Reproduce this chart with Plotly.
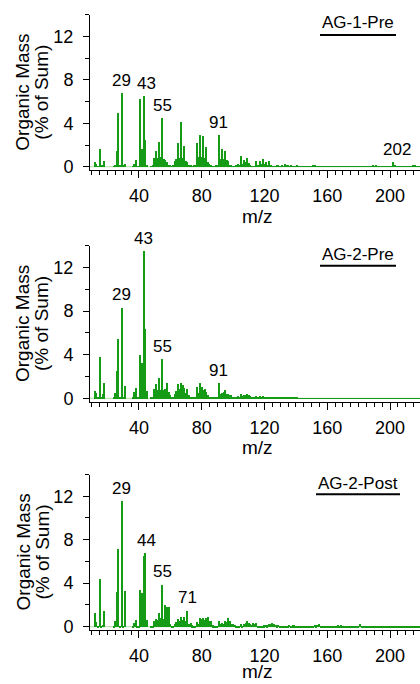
import plotly.graph_objects as go

# m/z grid shared by the three spectra
mz = list(range(10, 220))

# Organic mass spectra, % of total signal at each m/z (rows of 10 starting at m/z 10, 20, ...)
ag1_pre = [
    0, 0, 0.45, 0.25, 0.05, 1.65, 0.1, 0.1, 0.5, 0,
    0, 0, 0, 0, 0.05, 0.15, 1.5, 4.95, 0.1, 6.8,
    0.1, 0.3, 0, 0, 0, 0, 0.05, 0.3, 0.65, 0.05,
    0.05, 6.25, 1.65, 6.5, 2.45, 0.15, 0, 0, 0.05, 0.1,
    0.8, 1.45, 0.8, 2.25, 0.9, 4.5, 0.75, 0.6, 0.45, 0.2,
    0.15, 0.05, 0.2, 0.5, 0.75, 2.2, 0.85, 4.1, 0.85, 1.9,
    0.5, 0.4, 0.15, 0.1, 0.05, 0.1, 0.15, 2.2, 0.9, 2.95,
    0.9, 2.85, 0.8, 1.85, 0.4, 0.3, 0.1, 0.05, 0.05, 0.15,
    0.1, 2.9, 0.7, 1.6, 0.7, 1.5, 0.6, 0.5, 0.2, 0.1,
    0.05, 0.05, 0.1, 0.25, 0.2, 1.0, 0.25, 0.6, 0.4, 0.85,
    0.35, 0.2, 0.05, 0.05, 0.05, 0.5, 0.2, 0.55, 0.3, 0.7,
    0.3, 0.45, 0.2, 0.55, 0.1, 0.05, 0.05, 0.05, 0.15, 0.1,
    0.05, 0.2, 0.05, 0.25, 0.1, 0.2, 0.05, 0.2, 0.05, 0.05,
    0.05, 0.2, 0.05, 0.03, 0.03, 0.03, 0.03, 0.03, 0.03, 0.03,
    0.05, 0.1, 0.2, 0.05, 0.02, 0.02, 0.02, 0.02, 0.02, 0.02,
    0.02, 0.02, 0.02, 0.02, 0.02, 0.05, 0.02, 0.02, 0.02, 0.02,
    0.02, 0.02, 0.02, 0.02, 0.02, 0.02, 0.02, 0.02, 0.05, 0.02,
    0.02, 0.02, 0.02, 0.02, 0.02, 0.02, 0.02, 0.02, 0.02, 0.08,
    0.05, 0.08, 0.02, 0.02, 0.02, 0.02, 0.02, 0.02, 0.02, 0.02,
    0.02, 0.05, 0.45, 0.1, 0.02, 0.02, 0.02, 0.02, 0.02, 0.02,
    0.02, 0.02, 0.02, 0.02, 0.02, 0.1, 0.08, 0.02, 0.02, 0.02,
]

ag2_pre = [
    0, 0, 0.73, 0.5, 0.1, 3.77, 0.1, 0.37, 1.43, 0,
    0, 0, 0, 0, 0.1, 0.5, 2.5, 5.48, 0.1, 8.34,
    0.1, 1.16, 0, 0, 0, 0, 0.05, 0.6, 1.0, 0.1,
    0.1, 3.96, 3.3, 13.5, 6.36, 0.67, 0, 0, 0.05, 0.1,
    0.9, 1.3, 0.8, 1.9, 0.8, 3.6, 0.8, 0.85, 1.45, 0.6,
    0.3, 0.1, 0.15, 0.4, 0.7, 1.35, 0.9, 1.45, 1.2, 1.0,
    0.55, 0.85, 0.3, 0.15, 0.05, 0.1, 0.1, 1.1, 0.5, 1.4,
    1.1, 0.8, 0.85, 0.6, 0.35, 0.15, 0.05, 0.05, 0.05, 0.1,
    0.1, 1.4, 0.45, 0.5, 0.6, 0.75, 0.45, 0.45, 0.35, 0.3,
    0.15, 0.1, 0.1, 0.2, 0.15, 0.4, 0.25, 0.35, 0.3, 0.45,
    0.3, 0.2, 0.15, 0.15, 0.1, 0.2, 0.1, 0.2, 0.1, 0.2,
    0.1, 0.15, 0.1, 0.15, 0.08, 0.1, 0.08, 0.1, 0.08, 0.1,
    0.08, 0.1, 0.06, 0.08, 0.06, 0.08, 0.05, 0.08, 0.05, 0.06,
    0.05, 0.06, 0.04, 0.04, 0.04, 0.04, 0.04, 0.04, 0.04, 0.04,
    0.03, 0.03, 0.03, 0.03, 0.03, 0.03, 0.03, 0.03, 0.03, 0.03,
    0.02, 0.02, 0.02, 0.02, 0.02, 0.02, 0.02, 0.02, 0.02, 0.02,
    0.02, 0.02, 0.02, 0.02, 0.02, 0.02, 0.02, 0.02, 0.02, 0.02,
    0.02, 0.02, 0.02, 0.02, 0.02, 0.02, 0.02, 0.02, 0.02, 0.02,
    0.02, 0.02, 0.02, 0.02, 0.02, 0.02, 0.02, 0.02, 0.02, 0.02,
    0.02, 0.02, 0.02, 0.02, 0.02, 0.02, 0.02, 0.02, 0.02, 0.02,
    0.02, 0.02, 0.02, 0.02, 0.02, 0.02, 0.02, 0.02, 0.02, 0.02,
]

ag2_post = [
    0, 0, 1.28, 0.5, 0.1, 4.47, 0.1, 0.2, 1.5, 0,
    0, 0, 0, 0, 0.1, 0.6, 3.26, 7.15, 0.1, 11.6,
    0.1, 3.35, 0, 0, 0, 0, 0.05, 0.35, 0.7, 0.05,
    0.1, 3.4, 3.1, 6.55, 6.8, 0.7, 0, 0, 0.05, 0.1,
    0.55, 0.75, 0.7, 1.3, 0.8, 3.9, 0.75, 2.05, 1.85, 1.85,
    0.3, 0.1, 0.1, 0.3, 0.5, 0.75, 0.55, 0.9, 0.65, 0.95,
    0.6, 1.5, 0.3, 0.35, 0.15, 0.1, 0.05, 0.5, 0.3, 0.8,
    0.75, 0.8, 0.7, 0.85, 0.95, 0.55, 0.6, 0.15, 0.05, 0.1,
    0.1, 0.6, 0.3, 0.4, 0.3, 0.6, 0.5, 0.85, 0.55, 0.3,
    0.25, 0.2, 0.05, 0.1, 0.05, 0.25, 0.1, 0.3, 0.35, 0.6,
    0.35, 0.3, 0.2, 0.35, 0.3, 0.35, 0.1, 0.05, 0.05, 0.1,
    0.15, 0.2, 0.15, 0.25, 0.3, 0.35, 0.25, 0.2, 0.15, 0.2,
    0.1, 0.05, 0.03, 0.03, 0.05, 0.1, 0.2, 0.1, 0.15, 0.15,
    0.05, 0.1, 0.03, 0.03, 0.03, 0.03, 0.03, 0.03, 0.03, 0.03,
    0.05, 0.1, 0.2, 0.15, 0.2, 0.3, 0.1, 0.03, 0.03, 0.03,
    0.03, 0.03, 0.03, 0.03, 0.03, 0.03, 0.03, 0.15, 0.1, 0.15,
    0.03, 0.03, 0.03, 0.03, 0.03, 0.03, 0.03, 0.03, 0.03, 0.03,
    0.05, 0.25, 0.02, 0.02, 0.02, 0.02, 0.02, 0.02, 0.02, 0.02,
    0.02, 0.02, 0.02, 0.02, 0.02, 0.05, 0.05, 0.05, 0.05, 0.05,
    0.02, 0.02, 0.02, 0.02, 0.02, 0.02, 0.02, 0.02, 0.02, 0.02,
    0.02, 0.02, 0.02, 0.02, 0.02, 0.02, 0.02, 0.02, 0.02, 0.02,
]

sample_names = ["AG-1-Pre", "AG-2-Pre", "AG-2-Post"]
spectra = [ag1_pre, ag2_pre, ag2_post]
peak_labels = [[29, 43, 55, 91, 202], [29, 43, 55, 91], [29, 44, 55, 71]]

# ---- layout geometry (page is 420 x 684 px) ----
W, H = 420, 684
LEFT = 90
FONT = "Liberation Sans, Arial, sans-serif"
BAR = "rgb(22,155,22)"
BASE = "rgb(190,228,182)"

# (top, bottom) pixel rows of each panel's plot area
panel_px = [(15, 172), (248, 405.7), (478.7, 636)]
# pixel row of each "m/z" axis title (the last one runs off the page bottom)
mz_title_px = [218, 451, 677]
# small horizontal nudges for a few peak labels
label_dx = {(0, 43): 3, (0, 202): 3.5, (2, 44): 1.5}


def px_x(p):
    return (p - LEFT) / (W - LEFT)


def px_y(p):
    return 1 - p / H


fig = go.Figure()
annotations = []
shapes = []
layout = {}

for i, (name, vals) in enumerate(zip(sample_names, spectra)):
    n = "" if i == 0 else str(i + 1)
    xa, ya = "x" + n, "y" + n
    fig.add_trace(go.Bar(
        x=mz, y=vals, width=0.85, marker=dict(color=BAR, line=dict(width=0)),
        xaxis=xa, yaxis=ya, showlegend=False, hoverinfo="x+y",
    ))
    top, bot = panel_px[i]
    layout["xaxis" + n] = dict(
        domain=[0, 1], anchor=ya, range=[8.8, 219.1],
        showgrid=False, zeroline=False, showline=True, linecolor="black", linewidth=1,
        ticks="outside", ticklen=7, tickwidth=1, tickcolor="black",
        tick0=0, dtick=40, ticklabelstandoff=2,
        minor=dict(ticks="outside", dtick=5, tick0=0, ticklen=4, tickcolor="black", tickwidth=1),
        tickfont=dict(family=FONT, size=18, color="black"),
    )
    layout["yaxis" + n] = dict(
        domain=[px_y(bot), px_y(top)], anchor=xa, range=[-0.35, 14],
        showgrid=False, zeroline=False, showline=True, linecolor="black", linewidth=1,
        ticks="outside", ticklen=6, tickwidth=1, tickcolor="black",
        tick0=0, dtick=4, ticklabelstandoff=6,
        minor=dict(ticks="outside", dtick=2, tick0=0, ticklen=4, tickcolor="black", tickwidth=1),
        tickfont=dict(family=FONT, size=18, color="black"),
    )
    # baseline under the bars
    shapes.append(dict(type="line", xref=xa + " domain", yref=ya, x0=0, x1=1, y0=0, y1=0,
                       line=dict(color=BASE, width=1.2), layer="below"))
    # x-axis title
    annotations.append(dict(text="m/z", xref="paper", yref="paper", x=px_x(257), y=px_y(mz_title_px[i]),
                            xanchor="center", yanchor="middle", showarrow=False,
                            font=dict(family=FONT, size=19, color="black")))
    # two-line y title
    ymid = px_y((top + bot) / 2)
    for txt, xp in (("Organic Mass", 23), ("(% of Sum)", 42)):
        annotations.append(dict(text=txt, xref="paper", yref="paper", x=px_x(xp), y=ymid,
                                xanchor="center", yanchor="middle", textangle=-90,
                                showarrow=False, font=dict(family=FONT, size=19, color="black")))
    # sample label with rule underneath
    name_y = [23, 256.3, 487.7][i]
    rule_y = [35.3, 268, 498.7][i]
    rule_x = [(320, 396), (320, 396), (316, 400)][i]
    annotations.append(dict(text=name, xref="paper", yref="paper", x=px_x(358), y=px_y(name_y),
                            xanchor="center", yanchor="middle", showarrow=False,
                            font=dict(family=FONT, size=17, color="black")))
    shapes.append(dict(type="line", xref="paper", yref="paper",
                       x0=px_x(rule_x[0]), x1=px_x(rule_x[1]), y0=px_y(rule_y), y1=px_y(rule_y),
                       line=dict(color="black", width=2)))
    # peak m/z labels
    for m in peak_labels[i]:
        annotations.append(dict(text=str(m), xref=xa, yref=ya, x=m, y=vals[mz.index(m)],
                                xanchor="center", yanchor="bottom", showarrow=False,
                                xshift=label_dx.get((i, m), 0), yshift=1,
                                font=dict(family=FONT, size=17, color="black")))

fig.update_layout(
    width=W, height=H,
    margin=dict(l=LEFT, r=0, t=0, b=0),
    paper_bgcolor="white", plot_bgcolor="white",
    bargap=0, annotations=annotations, shapes=shapes,
    font=dict(family=FONT, color="black"),
    **layout,
)

fig.write_html("out.html")
